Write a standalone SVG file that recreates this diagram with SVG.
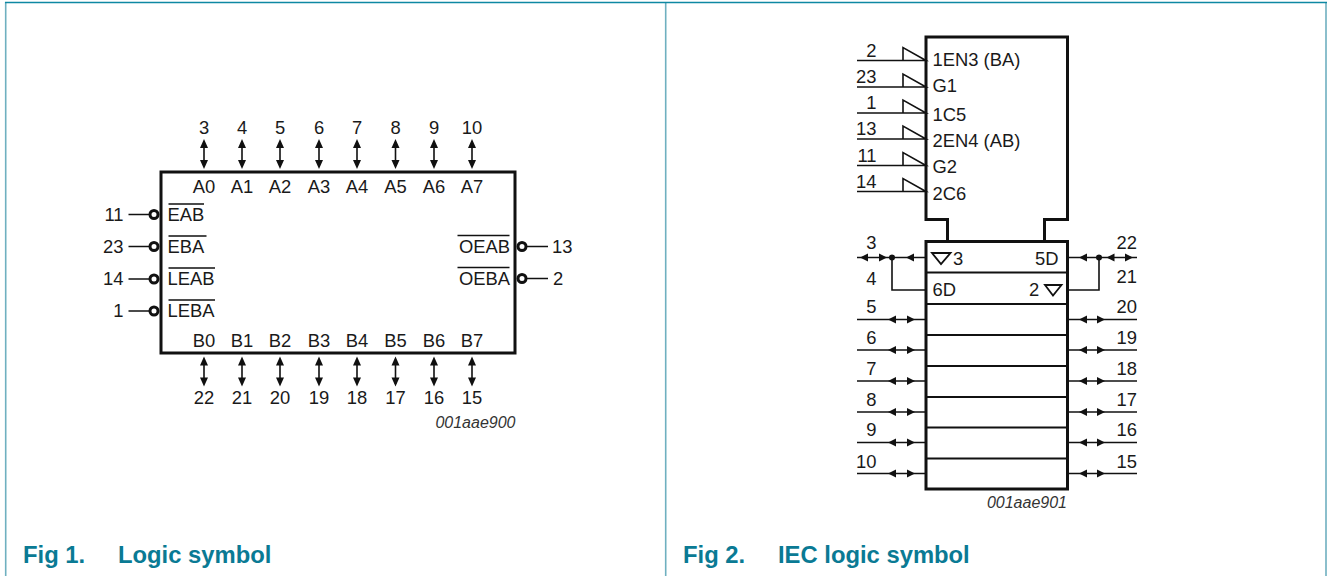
<svg xmlns="http://www.w3.org/2000/svg" width="1327" height="576" viewBox="0 0 1327 576">
<style>
text{font-family:"Liberation Sans",Arial,sans-serif;font-size:18.4px;fill:#1a1a1a}
.m{text-anchor:middle}.e{text-anchor:end}
.id{font-style:italic;font-size:16px;fill:#333}
.cap{font-weight:bold;font-size:23.800px;fill:#0a7a94}
.box{fill:none;stroke:#111;stroke-width:3}
.w{fill:none;stroke:#111;stroke-width:1.600}
.div{fill:none;stroke:#111;stroke-width:1.800}
.bub{fill:#fff;stroke:#111;stroke-width:3}
.ftop{fill:none;stroke:#0e88a3;stroke-width:1.300}
.fside{fill:none;stroke:#6fb0c0;stroke-width:1.600}
.ah{fill:#111}
</style>
<defs>
<path id="ud" class="ah" d="M0 0L-4 9H4ZM0 30L-4 21H4Z"/>
<path id="la" class="ah" d="M0 0L8 -4V4Z"/>
<path id="ra" class="ah" d="M0 0L-8 -4V4Z"/>
<g id="lr"><path class="w" d="M0 0H69"/><use href="#la" x="31"/><use href="#ra" x="58"/></g>
<g id="rr"><path class="w" d="M0 0H70"/><use href="#la" x="12"/><use href="#ra" x="38"/></g>
<g id="clk"><path class="w" d="M-69 0H0L-23 -13V0"/></g>
</defs>
<g id="frame"><path class="fside" d="M5.700 2V576M665.700 2V576M1326 2V576"/><path class="ftop" d="M5 2.500H1327"/></g>
<g id="fig1-caption"><text class="cap" x="23" y="563">Fig 1.</text><text class="cap" x="118" y="563">Logic symbol</text></g>
<g id="fig2-caption"><text class="cap" x="683" y="563">Fig 2.</text><text class="cap" x="778" y="563">IEC logic symbol</text></g>

<g id="connectors">
<use href="#ud" x="204" y="139"/><use href="#ud" x="242" y="139"/><use href="#ud" x="280" y="139"/><use href="#ud" x="319" y="139"/><use href="#ud" x="357" y="139"/><use href="#ud" x="395.500" y="139"/><use href="#ud" x="434" y="139"/><use href="#ud" x="472" y="139"/>
<path class="w" d="M204 142V166M242 142V166M280 142V166M319 142V166M357 142V166M395.500 142V166M434 142V166M472 142V166"/>
<use href="#ud" x="204" y="356.500"/><use href="#ud" x="242" y="356.500"/><use href="#ud" x="280" y="356.500"/><use href="#ud" x="319" y="356.500"/><use href="#ud" x="357" y="356.500"/><use href="#ud" x="395.500" y="356.500"/><use href="#ud" x="434" y="356.500"/><use href="#ud" x="472" y="356.500"/>
<path class="w" d="M204 360V384M242 360V384M280 360V384M319 360V384M357 360V384M395.500 360V384M434 360V384M472 360V384"/>
<path class="w" d="M128.500 214.500H150M128.500 246.500H150M128.500 279H150M128.500 311H150M526 246.500H548M526 278.500H548"/>
<use href="#clk" x="926" y="60.500"/><use href="#clk" x="926" y="87"/><use href="#clk" x="926" y="113"/><use href="#clk" x="926" y="139"/><use href="#clk" x="926" y="165.500"/><use href="#clk" x="926" y="191.500"/>
<path class="w" d="M857 257.500H926M892 257.500V290H926M1067 257.500H1137M1099 257.500V290H1067"/>
<circle class="ah" cx="892" cy="257.500" r="3"/><circle class="ah" cx="1099" cy="257.500" r="3"/>
<use href="#la" x="860" y="257.500"/><use href="#ra" x="887" y="257.500"/><use href="#la" x="906" y="257.500"/>
<use href="#la" x="1079" y="257.500"/><use href="#la" x="1106.500" y="257.500"/><use href="#ra" x="1133" y="257.500"/>
<use href="#lr" x="857" y="319.500"/><use href="#lr" x="857" y="350"/><use href="#lr" x="857" y="381"/><use href="#lr" x="857" y="412"/><use href="#lr" x="857" y="442.500"/><use href="#lr" x="857" y="473.500"/>
<use href="#rr" x="1067" y="319.500"/><use href="#rr" x="1067" y="350"/><use href="#rr" x="1067" y="381"/><use href="#rr" x="1067" y="412"/><use href="#rr" x="1067" y="442.500"/><use href="#rr" x="1067" y="473.500"/>
</g>

<g id="logic-symbol">
<rect class="box" x="161" y="172" width="354" height="181"/>
<circle class="bub" cx="154" cy="214.500" r="4"/><circle class="bub" cx="154" cy="246.500" r="4"/><circle class="bub" cx="154" cy="279" r="4"/><circle class="bub" cx="154" cy="311" r="4"/><circle class="bub" cx="522" cy="246.500" r="4"/><circle class="bub" cx="522" cy="278.500" r="4"/>
<path class="w" d="M168.500 204H204M168.500 236H206.500M168.500 268H215M168.500 300H215M457.500 235.500H509.500M457.500 267.500H509.500"/>
<g class="m">
<text class="m" x="204" y="134">3</text><text class="m" x="242" y="134">4</text><text class="m" x="280" y="134">5</text><text class="m" x="319" y="134">6</text><text class="m" x="357" y="134">7</text><text class="m" x="395.500" y="134">8</text><text class="m" x="434" y="134">9</text><text class="m" x="472" y="134">10</text>
<text class="m" x="204" y="193">A0</text><text class="m" x="242" y="193">A1</text><text class="m" x="280" y="193">A2</text><text class="m" x="319" y="193">A3</text><text class="m" x="357" y="193">A4</text><text class="m" x="395.500" y="193">A5</text><text class="m" x="434" y="193">A6</text><text class="m" x="472" y="193">A7</text>
<text class="m" x="204" y="347">B0</text><text class="m" x="242" y="347">B1</text><text class="m" x="280" y="347">B2</text><text class="m" x="319" y="347">B3</text><text class="m" x="357" y="347">B4</text><text class="m" x="395.500" y="347">B5</text><text class="m" x="434" y="347">B6</text><text class="m" x="472" y="347">B7</text>
<text class="m" x="204" y="404">22</text><text class="m" x="242" y="404">21</text><text class="m" x="280" y="404">20</text><text class="m" x="319" y="404">19</text><text class="m" x="357" y="404">18</text><text class="m" x="395.500" y="404">17</text><text class="m" x="434" y="404">16</text><text class="m" x="472" y="404">15</text>
</g>
<text class="e" x="123.500" y="221">11</text><text class="e" x="123.500" y="253">23</text><text class="e" x="123.500" y="285">14</text><text class="e" x="123.500" y="317">1</text>
<text x="167.500" y="221">EAB</text><text x="167.500" y="253">EBA</text><text x="167.500" y="285">LEAB</text><text x="167.500" y="317">LEBA</text>
<text class="e" x="510" y="253">OEAB</text><text class="e" x="510" y="285">OEBA</text>
<text x="552" y="253">13</text><text x="553" y="285">2</text>
<text class="id e" x="515.500" y="428">001aae900</text>
</g>

<g id="iec-logic-symbol">
<path class="box" d="M947.500 241V219.500H926V37H1067.500V219.500H1044.500V241"/>
<rect class="box" x="926" y="241.500" width="141.500" height="247.500"/>
<path class="div" d="M926 272.500H1067M926 304H1067M926 335H1067M926 366H1067M926 397H1067M926 427.500H1067M926 458.500H1067"/>
<path class="w" style="stroke-width:1.800" d="M932 253H950.500L941 264ZM1045 285H1061.500L1053 295.500Z"/>
<text class="e" x="876.500" y="57">2</text><text class="e" x="876.500" y="83">23</text><text class="e" x="876.500" y="109">1</text><text class="e" x="876.500" y="135">13</text><text class="e" x="876.500" y="162">11</text><text class="e" x="876.500" y="188">14</text>
<text x="932.500" y="66">1EN3 (BA)</text><text x="932.500" y="92">G1</text><text x="932.500" y="120.500">1C5</text><text x="932.500" y="146.500">2EN4 (AB)</text><text x="932.500" y="172.500">G2</text><text x="932.500" y="200">2C6</text>
<text x="953" y="265">3</text><text x="932.500" y="296">6D</text><text class="e" x="1058.500" y="265">5D</text><text x="1029" y="295.500">2</text>
<text class="e" x="876.500" y="248.500">3</text><text class="e" x="876.500" y="285">4</text><text class="e" x="876.500" y="313">5</text><text class="e" x="876.500" y="344">6</text><text class="e" x="876.500" y="375">7</text><text class="e" x="876.500" y="406">8</text><text class="e" x="876.500" y="436">9</text><text class="e" x="876.500" y="467.500">10</text>
<text class="e" x="1137" y="248.500">22</text><text class="e" x="1137" y="283">21</text><text class="e" x="1137" y="313">20</text><text class="e" x="1137" y="344">19</text><text class="e" x="1137" y="375">18</text><text class="e" x="1137" y="406">17</text><text class="e" x="1137" y="436">16</text><text class="e" x="1137" y="467.500">15</text>
<text class="id e" x="1067" y="507.500">001aae901</text>
</g>
</svg>
